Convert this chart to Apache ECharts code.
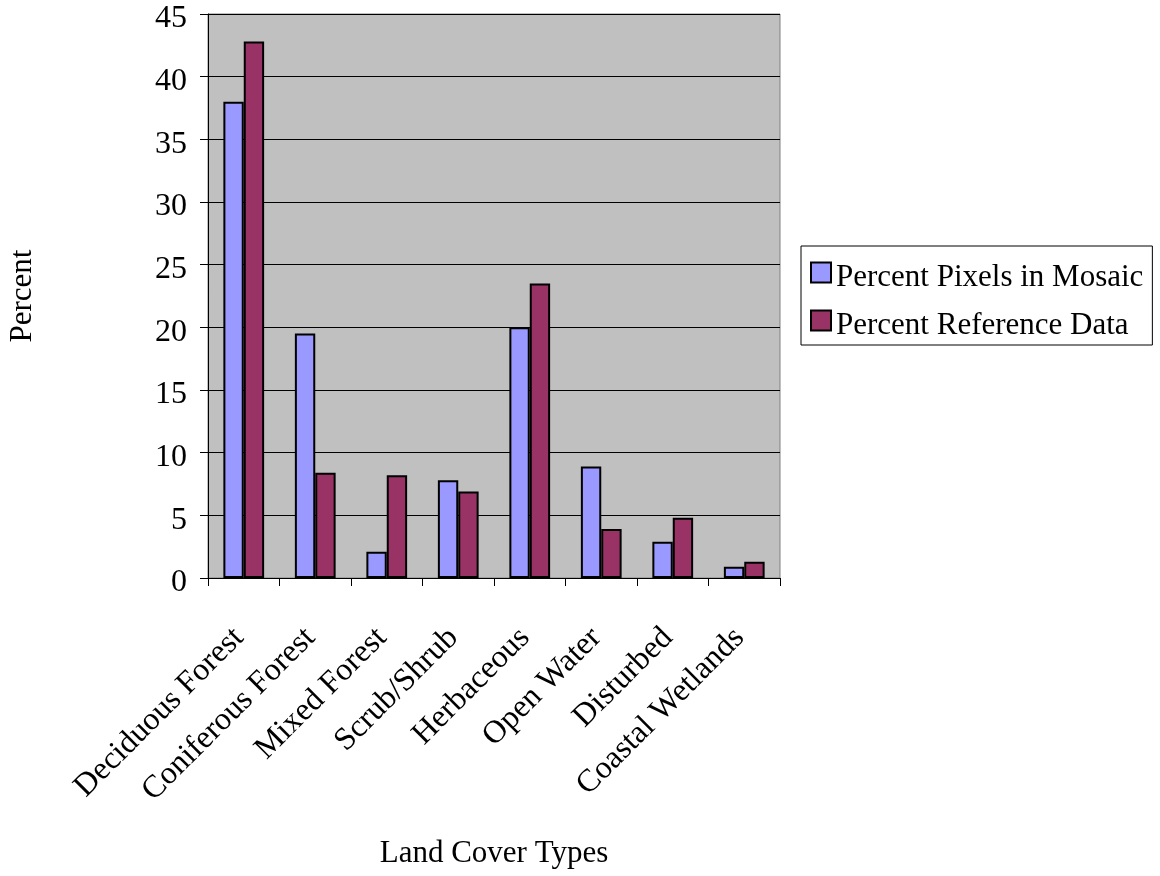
<!DOCTYPE html>
<html>
<head>
<meta charset="utf-8">
<title>Land Cover Types</title>
<script src="https://cdn.jsdelivr.net/npm/echarts@6/dist/echarts.min.js"></script>
<style>
  html, body { margin: 0; padding: 0; background: #ffffff; }
  #chart { width: 1160px; height: 876px; }
</style>
</head>
<body>
<div id="chart"></div>
<script>
// Land cover categories along the x axis
const categories = [
  'Deciduous Forest', 'Coniferous Forest', 'Mixed Forest', 'Scrub/Shrub',
  'Herbaceous', 'Open Water', 'Disturbed', 'Coastal Wetlands'
];

// Share of mosaic pixels per class (%)
const pixelsInMosaic = [38.0, 19.5, 2.1, 7.8, 20.0, 8.9, 2.9, 0.9];

// Share of reference data per class (%)
const referenceData = [42.8, 8.4, 8.2, 6.9, 23.5, 3.9, 4.8, 1.3];

// Value axis ticks
const yTicks = [0, 5, 10, 15, 20, 25, 30, 35, 40, 45];

const seriesNames = ['Percent Pixels in Mosaic', 'Percent Reference Data'];

const FONT = '"Liberation Serif", "Times New Roman", serif';

const chart = echarts.init(document.getElementById('chart'), null, { renderer: 'canvas' });

chart.setOption({
  animation: false,
  backgroundColor: '#ffffff',
  textStyle: { fontFamily: FONT, color: '#000' },
  grid: {
    left: 208, top: 14, right: 380, bottom: 298,
    show: true,
    backgroundColor: '#C0C0C0',
    borderColor: '#808080',
    borderWidth: 1
  },
  legend: {
    orient: 'vertical',
    left: 801, top: 246,
    padding: [6, 9, 4, 9],
    itemGap: 7,
    itemWidth: 20, itemHeight: 20,
    icon: 'rect',
    borderColor: '#000', borderWidth: 1,
    backgroundColor: '#ffffff',
    formatter: '{t|{name}}',
    textStyle: {
      fontFamily: FONT, fontSize: 31, color: '#000',
      rich: {
        t: {
          fontFamily: FONT, fontSize: 31, color: '#000',
          lineHeight: 30, padding: [10, 0, 0, 0]
        }
      }
    },
    data: seriesNames
  },
  xAxis: {
    type: 'category',
    data: categories,
    name: 'Land Cover Types',
    nameLocation: 'middle',
    nameGap: 260,
    nameTextStyle: { fontFamily: FONT, fontSize: 31, color: '#000' },
    axisLine: { lineStyle: { color: '#000', width: 1 } },
    axisTick: { show: true, length: 8, lineStyle: { color: '#000' } },
    axisLabel: {
      rotate: 45, margin: 50, interval: 0,
      fontFamily: FONT, fontSize: 32, color: '#000',
      padding: [0, 7, 0, 0]
    }
  },
  yAxis: {
    type: 'value',
    min: yTicks[0], max: yTicks[yTicks.length - 1], interval: 5,
    name: 'Percent',
    nameLocation: 'middle',
    nameGap: 170,
    nameTextStyle: { fontFamily: FONT, fontSize: 31, color: '#000' },
    axisLine: { show: true, lineStyle: { color: '#000', width: 1 } },
    axisTick: { show: true, length: 8, lineStyle: { color: '#000' } },
    axisLabel: {
      margin: 21, fontFamily: FONT, fontSize: 32, color: '#000',
      verticalAlign: 'top', lineHeight: 10
    },
    splitLine: { show: true, lineStyle: { color: '#000', width: 1 } }
  },
  series: [
    {
      name: seriesNames[0],
      type: 'bar',
      data: pixelsInMosaic,
      barGap: '0%',
      barCategoryGap: '43%',
      itemStyle: { color: '#9999FF', borderColor: '#000', borderWidth: 2 }
    },
    {
      name: seriesNames[1],
      type: 'bar',
      data: referenceData,
      barGap: '0%',
      barCategoryGap: '43%',
      itemStyle: { color: '#993366', borderColor: '#000', borderWidth: 2 }
    }
  ]
});
</script>
</body>
</html>
